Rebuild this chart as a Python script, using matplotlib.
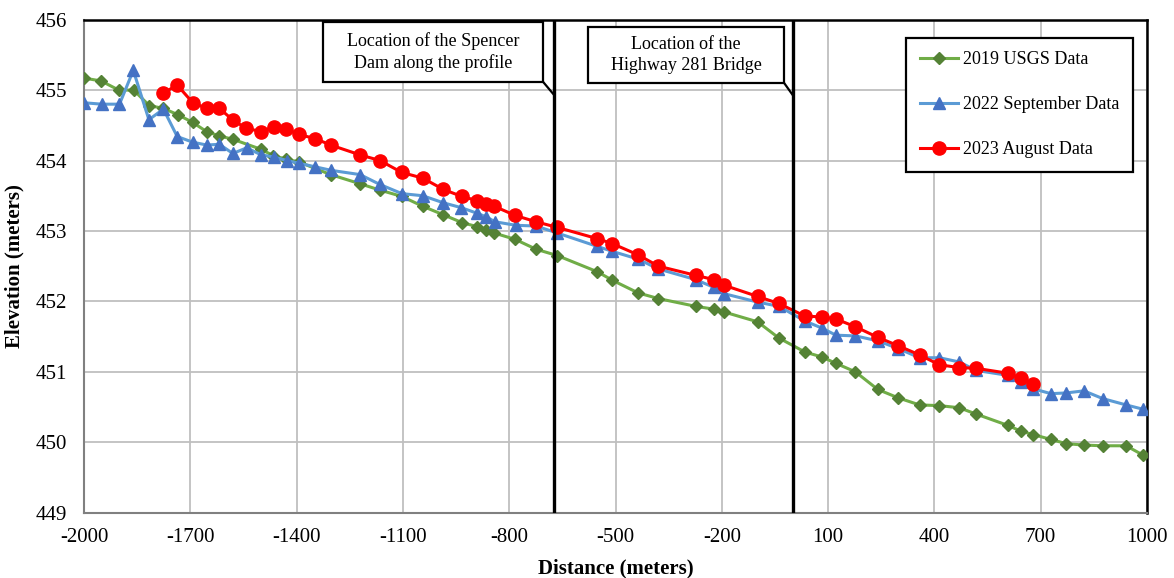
import matplotlib.pyplot as plt
from matplotlib.patches import Rectangle

# data
usgs_2019_x = [-2000, -1952, -1902, -1860, -1816, -1776, -1735, -1693, -1654, -1618, -1579,
               -1501, -1466, -1430, -1394, -1304, -1221, -1165, -1103, -1044, -986, -934,
               -890, -865, -842, -783, -724, -664, -551, -509, -436, -379, -274, -223,
               -194, -99, -39, 35, 83, 122, 177, 240, 298, 358, 414, 470, 518, 607, 643,
               678, 729, 772, 822, 875, 941, 988]
usgs_2019_y = [455.17, 455.13, 455.0, 455.0, 454.78, 454.74, 454.65, 454.54, 454.41, 454.35,
               454.30, 454.16, 454.07, 454.02, 453.98, 453.80, 453.67, 453.58, 453.49, 453.35,
               453.23, 453.12, 453.06, 453.02, 452.97, 452.88, 452.74, 452.65, 452.42, 452.30,
               452.12, 452.04, 451.93, 451.89, 451.85, 451.71, 451.48, 451.28, 451.21, 451.12,
               451.0, 450.75, 450.63, 450.53, 450.52, 450.49, 450.40, 450.24, 450.16, 450.11,
               450.04, 449.98, 449.96, 449.95, 449.95, 449.82]

sep_2022_x = [-2000, -1950, -1900, -1861, -1817, -1776, -1737, -1693, -1654, -1618, -1580,
              -1541, -1500, -1464, -1428, -1392, -1347, -1302, -1221, -1165, -1103, -1044,
              -986, -935, -890, -865, -840, -781, -724, -664, -551, -509, -436, -379, -274,
              -223, -194, -99, -39, 35, 83, 122, 177, 240, 298, 358, 414, 470, 518, 607,
              643, 678, 729, 772, 822, 875, 941, 988]
sep_2022_y = [454.82, 454.80, 454.80, 455.28, 454.58, 454.73, 454.34, 454.26, 454.22, 454.23,
              454.10, 454.18, 454.08, 454.05, 454.00, 453.96, 453.91, 453.86, 453.80, 453.66,
              453.53, 453.50, 453.40, 453.33, 453.25, 453.20, 453.13, 453.08, 453.07, 452.97,
              452.78, 452.71, 452.60, 452.46, 452.31, 452.20, 452.11, 451.99, 451.93, 451.72,
              451.62, 451.52, 451.51, 451.44, 451.33, 451.20, 451.20, 451.14, 451.02, 450.95,
              450.86, 450.76, 450.69, 450.70, 450.73, 450.62, 450.53, 450.47]

aug_2023_x = [-1776, -1737, -1693, -1654, -1618, -1579, -1543, -1501, -1464, -1430, -1394,
              -1347, -1304, -1221, -1165, -1103, -1044, -986, -934, -890, -865, -842, -783,
              -724, -664, -551, -509, -436, -379, -274, -223, -194, -99, -39, 35, 83, 122,
              177, 240, 298, 358, 414, 470, 518, 607, 643, 678]
aug_2023_y = [454.96, 455.07, 454.82, 454.74, 454.74, 454.57, 454.46, 454.41, 454.48, 454.45,
              454.37, 454.31, 454.22, 454.08, 454.00, 453.83, 453.75, 453.59, 453.49, 453.43,
              453.38, 453.35, 453.22, 453.13, 453.05, 452.89, 452.82, 452.66, 452.50, 452.37,
              452.31, 452.23, 452.07, 451.97, 451.79, 451.78, 451.75, 451.64, 451.49, 451.37,
              451.24, 451.10, 451.06, 451.05, 450.98, 450.91, 450.83]

x_ticks = list(range(-2000, 1001, 300))
y_ticks = list(range(449, 457))

dam_x = -675
bridge_x = 0
dam_label = "Location of the Spencer\nDam along the profile"
bridge_label = "Location of the\nHighway 281 Bridge"

plt.rcParams['font.family'] = ['Liberation Serif', 'DejaVu Serif']
plt.rcParams['axes.unicode_minus'] = False

fig = plt.figure(figsize=(11.74, 5.78), dpi=100)
ax = fig.add_axes([0.0716, 0.113, 0.9054, 0.853])

ax.plot(usgs_2019_x, usgs_2019_y, color='#70AD47', lw=2.2, marker='D', ms=6.5,
        mfc='#548235', mec='#548235', label='2019 USGS Data', zorder=3)
ax.plot(sep_2022_x, sep_2022_y, color='#5B9BD5', lw=2.2, marker='^', ms=9,
        mfc='#4472C4', mec='#4472C4', label='2022 September Data', zorder=4)
ax.plot(aug_2023_x, aug_2023_y, color='#FF0000', lw=2.2, marker='o', ms=9.5,
        mfc='#FF0000', mec='#FF0000', label='2023 August Data', zorder=5)

ax.axvline(dam_x, color='black', lw=2.4, zorder=6)
ax.axvline(bridge_x, color='black', lw=2.4, zorder=6)

ax.set_xlim(-2000, 1000)
ax.set_ylim(449, 456)
ax.set_xticks(x_ticks)
ax.set_yticks(y_ticks)
ax.tick_params(length=0, labelsize=15)
ax.tick_params(axis='x', pad=11)
ax.tick_params(axis='y', pad=12)
ax.grid(True, color='#bfbfbf', lw=1.3)
ax.set_axisbelow(True)

for s in ['top', 'right']:
    ax.spines[s].set_color('black')
    ax.spines[s].set_linewidth(1.8)
for s in ['left', 'bottom']:
    ax.spines[s].set_color('#808080')
    ax.spines[s].set_linewidth(1.5)

ax.set_xlabel('Distance (meters)', fontsize=15, fontweight='bold', labelpad=8)
ax.set_ylabel('Elevation (meters)', fontsize=15, fontweight='bold', labelpad=8)

# callout boxes
def callout(x0, x1, y0, y1, xline, yline, text):
    ax.add_patch(Rectangle((x0, y0), x1 - x0, y1 - y0, fc='white', ec='black',
                           lw=1.6, zorder=7))
    ax.plot([x1, xline], [y0, yline], color='black', lw=1.6, zorder=7)
    ax.text((x0 + x1) / 2, (y0 + y1) / 2, text, ha='center', va='center',
            fontsize=13, linespacing=1.3, zorder=8)

callout(-1326, -705, 455.12, 455.96, dam_x, 454.94, dam_label)
callout(-578, -24, 455.10, 455.89, bridge_x, 454.93, bridge_label)

leg = ax.legend(loc='upper right', bbox_to_anchor=(0.987, 0.963), borderaxespad=0,
                fontsize=13, labelspacing=1.55, handlelength=2.1, handletextpad=0.3,
                borderpad=0.75, fancybox=False, framealpha=1, edgecolor='black')
leg.get_frame().set_linewidth(1.6)

plt.savefig('out.png', dpi=100)
